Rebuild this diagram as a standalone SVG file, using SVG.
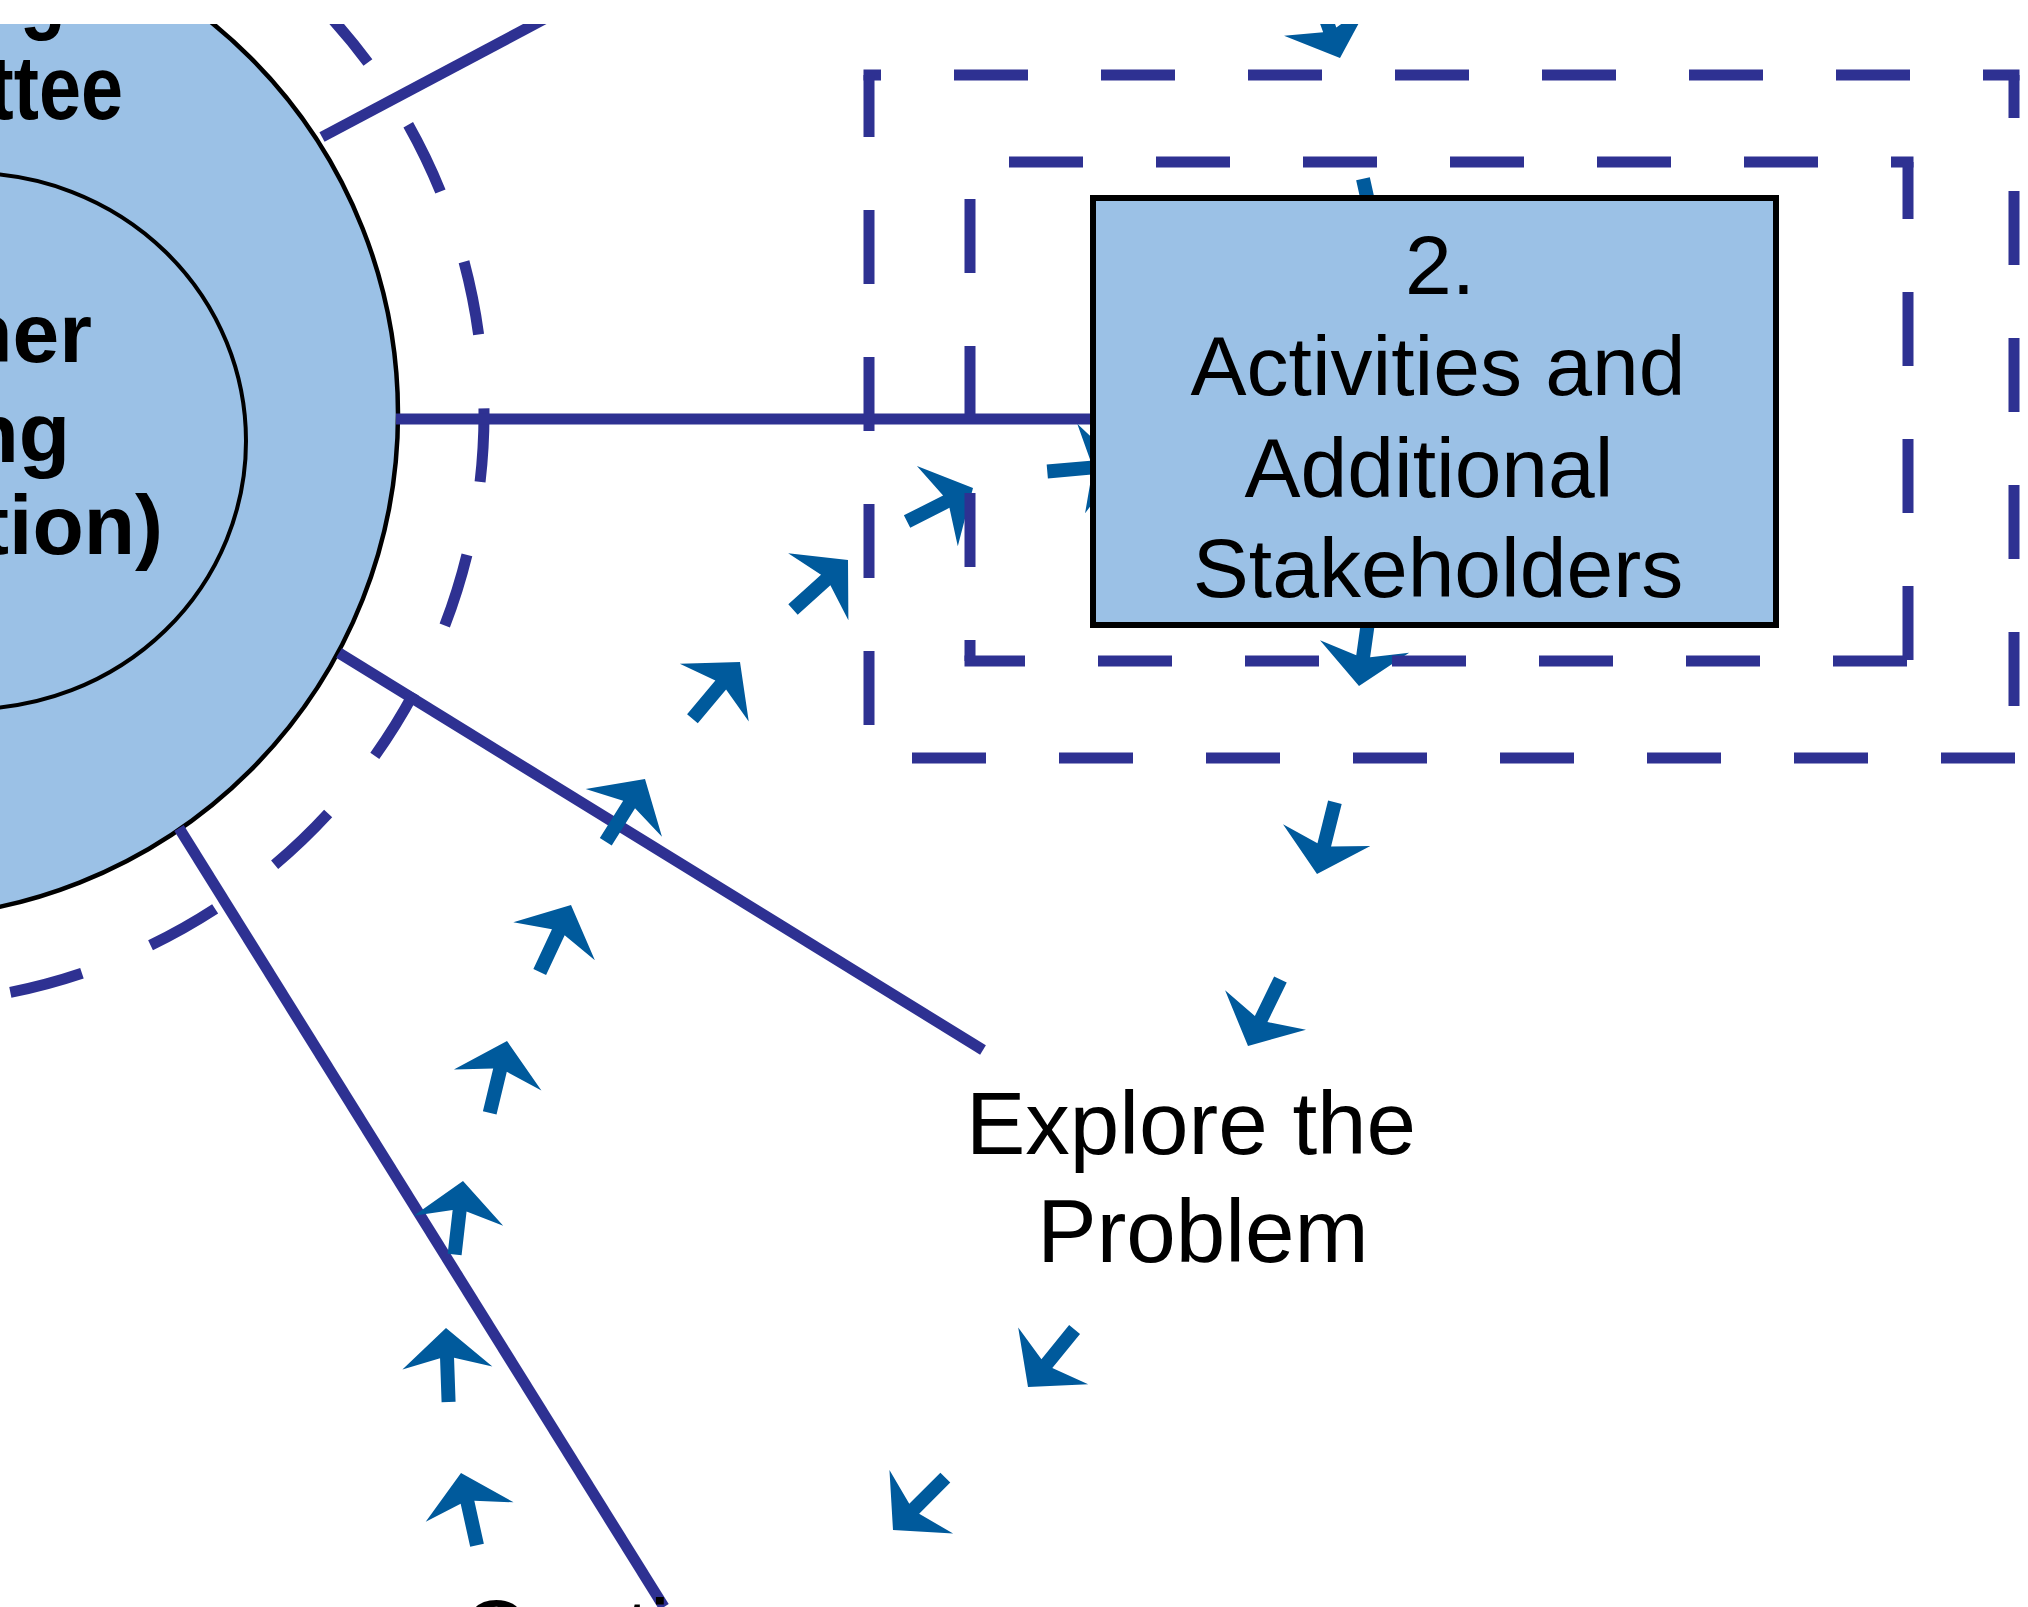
<svg xmlns="http://www.w3.org/2000/svg" width="2028" height="1607" viewBox="0 0 2028 1607">
<style>
.nv{stroke:#2E3192;stroke-width:11;fill:none}
.ds{stroke:#2E3192;stroke-width:11;fill:none;stroke-dasharray:74 73}
.ar{fill:#005A9C}
.tb{font-family:"Liberation Sans",Arial,sans-serif;font-weight:bold;font-size:84px;fill:#000;text-anchor:end}
.tr{font-family:"Liberation Sans",Arial,sans-serif;font-size:84px;fill:#000;text-anchor:middle}
.te{font-family:"Liberation Sans",Arial,sans-serif;font-size:89px;fill:#000;text-anchor:middle}
</style>
<defs>
<clipPath id="cp"><rect x="0" y="24" width="2028" height="1583"/></clipPath>
<path id="arw" d="M0,0 L45,40 L7,30 L7,74 L-7,74 L-7,30 L-45,40 Z"/>
</defs>
<rect width="2028" height="1607" fill="#fff"/>
<g clip-path="url(#cp)">
<g id="core">
<circle cx="-106" cy="414" r="504" fill="#9BC1E6" stroke="#000" stroke-width="4.5"/>
<ellipse cx="-30" cy="441" rx="276" ry="268" fill="none" stroke="#000" stroke-width="4"/>
<text class="tb" transform="translate(66,22) scale(0.84,1)" style="font-size:90px">g</text>
<text class="tb" transform="translate(123,119) scale(0.84,1)" style="font-size:90px">ttee</text>
<text class="tb" x="92" y="362">her</text>
<text class="tb" x="70" y="462">ng</text>
<text class="tb" x="163" y="554">tion)</text>
</g>
<g id="connectors">
<circle cx="-106" cy="414" r="590" class="nv" stroke-dasharray="74.14 74.14" stroke-dashoffset="6"/>
<line class="nv" x1="322" y1="137" x2="580" y2="0"/>
<line class="nv" x1="396" y1="419" x2="1095" y2="419"/>
<line class="nv" x1="339" y1="653" x2="983" y2="1050"/>
<line class="nv" x1="179" y1="828" x2="664" y2="1607"/>
<g class="ar">
<use href="#arw" transform="translate(461,1473) rotate(-12.5)"/>
<use href="#arw" transform="translate(446,1328) rotate(-2)"/>
<use href="#arw" transform="translate(463,1181) rotate(6.5)"/>
<use href="#arw" transform="translate(507,1041) rotate(13.5)"/>
<use href="#arw" transform="translate(571,905) rotate(25)"/>
<use href="#arw" transform="translate(645,779) rotate(32)"/>
<use href="#arw" transform="translate(740,662) rotate(40)"/>
<use href="#arw" transform="translate(848,560) rotate(48)"/>
<use href="#arw" transform="translate(973,488) rotate(63)"/>
<use href="#arw" transform="translate(1121,465) rotate(85)"/>
<use href="#arw" transform="translate(1379,251) rotate(167.5)"/>
<use href="#arw" transform="translate(1340,58) rotate(160)"/>
<use href="#arw" transform="translate(1359,686) rotate(188)"/>
<use href="#arw" transform="translate(1317,874) rotate(194)"/>
<use href="#arw" transform="translate(1248,1046) rotate(206)"/>
<use href="#arw" transform="translate(1028,1387) rotate(219)"/>
<use href="#arw" transform="translate(893,1530) rotate(225)"/>
</g>
</g>
<g id="boundary-outer">
<line class="ds" x1="863.5" y1="75" x2="2019.5" y2="75" stroke-dashoffset="56.5"/>
<line class="ds" x1="2014" y1="75" x2="2014" y2="758" stroke-dashoffset="31"/>
<line class="ds" x1="863.5" y1="758" x2="2019.5" y2="758" stroke-dashoffset="98.5"/>
<line class="ds" x1="869" y1="75" x2="869" y2="758" stroke-dashoffset="12"/>
</g>
<g id="boundary-inner">
<line class="ds" x1="964.5" y1="162" x2="1913.5" y2="162" stroke-dashoffset="102.5"/>
<line class="ds" x1="970" y1="162" x2="970" y2="661" stroke-dashoffset="110"/>
<line class="ds" x1="964.5" y1="661" x2="1913.5" y2="661" stroke-dashoffset="13.5"/>
<line class="ds" x1="1908" y1="162" x2="1908" y2="661" stroke-dashoffset="17"/>
</g>
<g id="node-2">
<rect x="1093" y="198" width="683" height="427" fill="#9BC1E6" stroke="#000" stroke-width="6"/>
<text class="tr" x="1440" y="294">2.</text>
<text class="tr" x="1438" y="395">Activities and</text>
<text class="tr" x="1429" y="497">Additional</text>
<text class="tr" x="1438" y="597">Stakeholders</text>
</g>
<g id="label-explore">
<text class="te" x="1191" y="1154">Explore the</text>
<text class="te" x="1203" y="1262">Problem</text>
</g>
<g id="label-continue">
<text class="te" x="462" y="1662" style="text-anchor:start">Continue</text>
</g>
</g>
</svg>
